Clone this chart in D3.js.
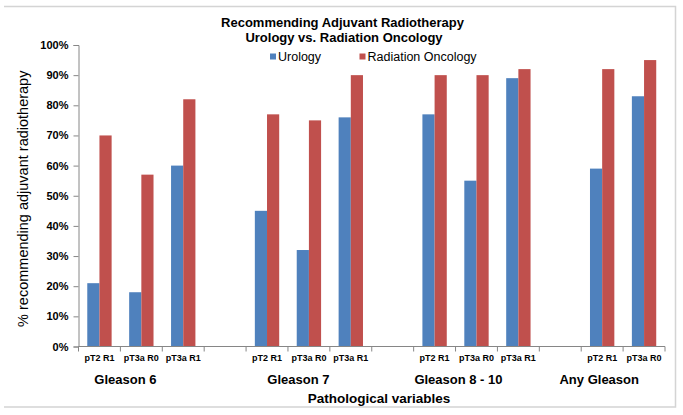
<!DOCTYPE html>
<html>
<head>
<meta charset="utf-8">
<script src="https://cdn.jsdelivr.net/npm/d3@7"></script>
<style>
  html, body { margin: 0; padding: 0; background: #fff; }
  svg { display: block; font-family: "Liberation Sans", Arial, sans-serif; }
</style>
</head>
<body>
<svg id="chart" width="683" height="415"></svg>
<script>
// ---- data ----
const subgroups = ["pT2 R1","pT3a R0","pT3a R1","","pT2 R1","pT3a R0","pT3a R1","","pT2 R1","pT3a R0","pT3a R1","","pT2 R1","pT3a R0"];
const urology   = [21, 18, 60, null, 45, 32, 76, null, 77, 55, 89, null, 59, 83];
const radiation = [70, 57, 82, null, 77, 75, 90, null, 90, 90, 92, null, 92, 95];
const groups = ["Gleason 6", "Gleason 7", "Gleason 8 - 10", "Any Gleason"];
const seriesNames = ["Urology", "Radiation Oncology"];
const yTickValues = [0, 10, 20, 30, 40, 50, 60, 70, 80, 90, 100];

const title1 = "Recommending Adjuvant Radiotherapy";
const title2 = "Urology vs. Radiation Oncology";
const yTitle = "% recommending adjuvant radiotherapy";
const xTitle = "Pathological variables";

// ---- layout ----
const colors = ["#4F81BD", "#C0504D"];
const axisColor = "#868686";
const svg = d3.select("#chart");

const plot = { left: 78.5, right: 665, top: 45, bottom: 346.5 };

const x = d3.scaleBand().domain(d3.range(subgroups.length))
  .range([plot.left, plot.right]).paddingInner(0).paddingOuter(0);
const x1 = d3.scaleBand().domain(seriesNames)
  .range([0, x.bandwidth()]).paddingInner(0).paddingOuter(0.72);
const y = d3.scaleLinear().domain([0, 100]).range([plot.bottom, plot.top]);

// frame
svg.append("path")
  .attr("d", "M4,6.5 H675.5 V407 H4")
  .attr("fill", "none").attr("stroke", "#d4d4d4").attr("stroke-width", 1.5);

// bars
const rows = subgroups.map((s, i) => ({ i, vals: [urology[i], radiation[i]] }));
const cat = svg.append("g").selectAll("g").data(rows).join("g")
  .attr("transform", d => `translate(${x(d.i)},0)`);
cat.selectAll("rect")
  .data(d => d.vals.map((v, k) => ({ v, k })).filter(e => e.v !== null))
  .join("rect")
  .attr("x", e => x1(seriesNames[e.k]))
  .attr("width", x1.bandwidth())
  .attr("y", e => y(e.v))
  .attr("height", e => y(0) - y(e.v))
  .attr("fill", e => colors[e.k]);

// y axis
const yAxis = svg.append("g").attr("transform", `translate(${plot.left},0)`)
  .call(d3.axisLeft(y).tickValues(yTickValues).tickFormat(d => d + "%").tickSize(5).tickPadding(5));
yAxis.select(".domain").attr("stroke", axisColor);
yAxis.selectAll(".tick line").attr("stroke", axisColor);
yAxis.selectAll(".tick text").attr("font-size", 11).attr("font-weight", "bold")
  .attr("fill", "#000").attr("font-family", "Liberation Sans, Arial, sans-serif");

// x axis
const xAxisG = svg.append("g").attr("transform", `translate(0,${plot.bottom})`);
xAxisG.append("line").attr("x1", plot.left).attr("x2", plot.right)
  .attr("stroke", axisColor);
const boundaries = d3.range(subgroups.length + 1).map(i => plot.left + i * x.step());
xAxisG.selectAll("line.tk").data(boundaries).join("line").attr("class", "tk")
  .attr("x1", d => d).attr("x2", d => d).attr("y1", 0).attr("y2", 5)
  .attr("stroke", axisColor);
xAxisG.selectAll("text").data(rows.filter(r => subgroups[r.i] !== "")).join("text")
  .attr("x", d => x(d.i) + x.bandwidth() / 2)
  .attr("y", 14)
  .attr("text-anchor", "middle")
  .attr("font-size", 9).attr("font-weight", "bold")
  .text(d => subgroups[d.i]);

// group labels (placement in band units, as in the reference)
const groupPos = [1.12, 5.25, 9.07, 12.43];
svg.append("g").selectAll("text").data(groups).join("text")
  .attr("x", (g, k) => plot.left + groupPos[k] * x.step())
  .attr("y", 384)
  .attr("text-anchor", "middle")
  .attr("font-size", 13).attr("font-weight", "bold")
  .text(g => g);

// x title
svg.append("text").attr("x", 379).attr("y", 402.5)
  .attr("text-anchor", "middle").attr("font-size", 13.5).attr("font-weight", "bold")
  .text(xTitle);

// y title
svg.append("text")
  .attr("transform", `translate(28,${(plot.top + plot.bottom) / 2 + 3}) rotate(-90)`)
  .attr("text-anchor", "middle").attr("font-size", 14.5)
  .text(yTitle);

// titles
svg.append("text").attr("x", 342.5).attr("y", 26.5)
  .attr("text-anchor", "middle").attr("font-size", 13).attr("font-weight", "bold")
  .text(title1);
svg.append("text").attr("x", 344).attr("y", 41.5)
  .attr("text-anchor", "middle").attr("font-size", 13).attr("font-weight", "bold")
  .text(title2);

// legend
const legendX = [270, 359.5];
const lg = svg.append("g").selectAll("g").data(seriesNames).join("g")
  .attr("transform", (d, k) => `translate(${legendX[k]},0)`);
lg.append("rect").attr("x", 0).attr("y", 53.5).attr("width", 6).attr("height", 6)
  .attr("fill", (d, k) => colors[k]);
lg.append("text").attr("x", 8).attr("y", 61).attr("font-size", 12.5)
  .text(d => d);
</script>
</body>
</html>
